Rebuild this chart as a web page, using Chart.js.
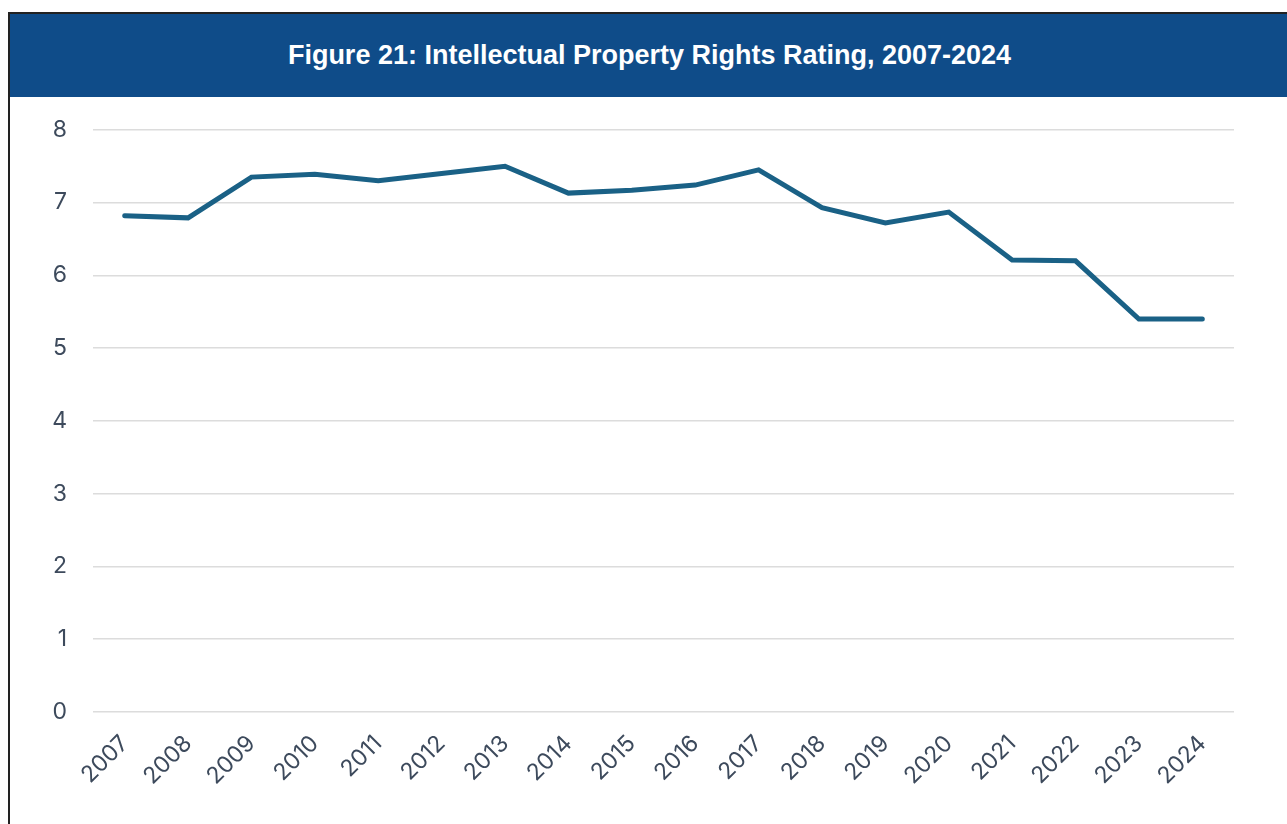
<!DOCTYPE html>
<html>
<head>
<meta charset="utf-8">
<script src="https://cdn.jsdelivr.net/npm/chart.js@4/dist/chart.umd.min.js"></script>
<style>
  html, body { margin: 0; padding: 0; background: #fff; overflow: hidden; }
  #frame {
    position: absolute; left: 8px; top: 12px; width: 1300px; height: 830px;
    border-left: 2px solid #222; border-top: 2px solid #222;
  }
  #title {
    position: absolute; left: 0; top: 0; width: 1279px; height: 83px; z-index: 2;
    background: #0f4c89; color: #fff;
    font: bold 27px "Liberation Sans", Arial, sans-serif;
    display: flex; align-items: center; justify-content: center;
  }
  #wrap { position: absolute; left: 0; top: 76px; width: 1277px; height: 734px; z-index: 1; }
</style>
</head>
<body>
<div id="frame">
  <div id="title">Figure 21: Intellectual Property Rights Rating, 2007-2024</div>
  <div id="wrap"><canvas id="Chart"></canvas></div>
</div>
<script>
const years = ["2007", "2008", "2009", "2010", "2011", "2012", "2013", "2014", "2015",
  "2016", "2017", "2018", "2019", "2020", "2021", "2022", "2023", "2024"];
const ratings = [6.82, 6.79, 7.35, 7.39, 7.30, 7.40, 7.50, 7.13, 7.17,
  7.24, 7.45, 6.93, 6.72, 6.87, 6.21, 6.20, 5.40, 5.40];
const yTicks = [0, 1, 2, 3, 4, 5, 6, 7, 8];

const tickColor = "#3d4a5c";
const tickFont = { family: "Inter, 'Noto Sans', sans-serif", size: 23 };

new Chart(document.getElementById("Chart"), {
  type: "line",
  data: {
    labels: years,
    datasets: [{
      label: "Rating",
      data: ratings,
      borderColor: "#1a6186",
      borderWidth: 5,
      pointRadius: 0,
      fill: false,
      tension: 0,
      borderCapStyle: "round",
      borderJoinStyle: "miter",
    }],
  },
  options: {
    responsive: true,
    maintainAspectRatio: false,
    animation: false,
    layout: { padding: { top: 22, right: 53, left: 0, bottom: 0 } },
    plugins: { legend: { display: false }, tooltip: { enabled: false } },
    scales: {
      x: {
        offset: true,
        grid: { display: false },
        border: { display: false },
        ticks: {
          color: tickColor, font: tickFont,
          minRotation: 45, maxRotation: 45, padding: 10,
        },
        afterFit: (s) => { s.height = 112; },
      },
      y: {
        min: 0, max: 8,
        afterBuildTicks: (s) => { s.ticks = yTicks.map((v) => ({ value: v })); },
        grid: { color: "#dcdcdc", lineWidth: 1.5, drawTicks: false },
        border: { display: false },
        ticks: { color: tickColor, font: tickFont, padding: 26 },
        afterFit: (s) => { s.width = 83; },
      },
    },
  },
});
</script>
</body>
</html>
